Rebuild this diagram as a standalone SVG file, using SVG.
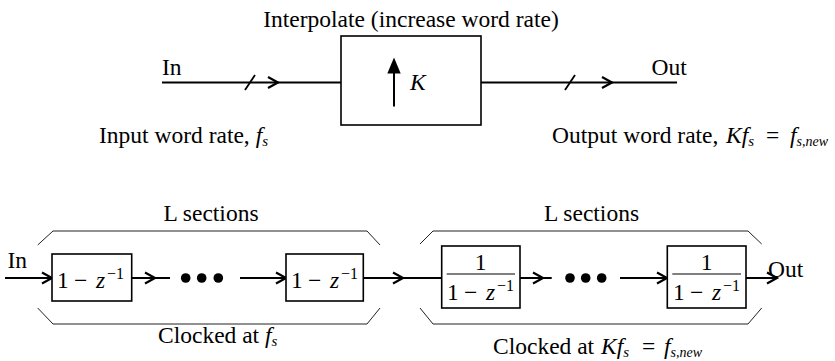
<svg xmlns="http://www.w3.org/2000/svg" xmlns:xlink="http://www.w3.org/1999/xlink" width="835" height="361" viewBox="0 0 835 361">
<style>
text{font-family:"Liberation Serif","Times New Roman",serif;font-size:23.5px;fill:#000}
.i{font-style:italic}
.sub{font-size:15px;font-style:italic}
.sub2{font-size:14px;font-style:italic}
.sup{font-size:16px}
.wire{stroke:#000;stroke-width:2;fill:none}
.box{stroke:#000;stroke-width:1.6;fill:#fff}
.br{stroke:#222;stroke-width:1;fill:none}
</style>
<defs>
<path id="chev" d="M-10,-5.5 L0,0 L-10,5.5" fill="none" stroke="#000" stroke-width="2.2" stroke-linejoin="miter"/>
<path id="slash" d="M-5,7.5 L5,-7.5" fill="none" stroke="#000" stroke-width="1.8"/>
</defs>
<rect width="835" height="361" fill="#fff"/>

<g id="title"><text x="411" y="27" text-anchor="middle">Interpolate (increase word rate)</text></g>

<g id="interp">
<rect class="box" x="341" y="36" width="140" height="89"/>
<path d="M394,106.5 L394,72" stroke="#000" stroke-width="2"/>
<path d="M387.3,73.5 L394,57.5 L400.7,73.5 Z" fill="#000"/>
<text x="410" y="89.5" class="i">K</text>
</g>

<g id="in-top"><text x="162" y="75">In</text></g>
<g id="out-top"><text x="651.5" y="75">Out</text></g>
<g id="inrate"><text x="99" y="143">Input word rate, <tspan class="i">f</tspan><tspan class="sub" dy="3">s</tspan></text></g>
<g id="outrate"><text x="552" y="143">Output word rate,<tspan class="i" x="726">Kf</tspan><tspan class="sub" dy="3">s</tspan><tspan dy="-3" x="766">=</tspan><tspan class="i" x="790">f</tspan><tspan class="sub2" dy="3">s,new</tspan></text></g>

<g id="connectors">
<path class="wire" d="M162,82.5 H341 M481,82.5 H677"/>
<use xlink:href="#slash" x="250" y="82.5"/>
<use xlink:href="#chev" x="278" y="82.5"/>
<use xlink:href="#slash" x="570" y="82.5"/>
<use xlink:href="#chev" x="612" y="82.5"/>
<path class="wire" d="M5,278 H52 M131.7,278 H170 M240,278 H286 M363.3,278 H441.7 M520,278 H551.7 M620,278 H667.3 M746,278 H777"/>
<use xlink:href="#chev" x="52" y="278"/>
<use xlink:href="#chev" x="155" y="278"/>
<use xlink:href="#chev" x="286" y="278"/>
<use xlink:href="#chev" x="403" y="278"/>
<use xlink:href="#chev" x="543" y="278"/>
<use xlink:href="#chev" x="667" y="278"/>
<use xlink:href="#chev" x="777" y="278"/>
</g>

<g id="in-bot"><text x="7.5" y="268">In</text></g>
<g id="out-bot"><text x="768" y="277">Out</text></g>

<g id="bracket1">
<path class="br" d="M37.7,245 L53,231 H367 L380,245"/>
<path class="br" d="M37.7,308 L53,324 H367 L380,308"/>
<text x="211" y="221" text-anchor="middle">L sections</text>
<text x="158" y="343">Clocked at <tspan class="i">f</tspan><tspan class="sub" dy="3">s</tspan></text>
</g>

<g id="bracket2">
<path class="br" d="M420,244 L433,231 H748 L761.7,244"/>
<path class="br" d="M420,308 L433,324 H748 L761.7,308"/>
<text x="591.5" y="221" text-anchor="middle">L sections</text>
<text x="493" y="354">Clocked at <tspan class="i" x="601">Kf</tspan><tspan class="sub" dy="3">s</tspan><tspan dy="-3" x="642">=</tspan><tspan class="i" x="664">f</tspan><tspan class="sub2" dy="3">s,new</tspan></text>
</g>

<g id="diff1">
<rect class="box" x="52" y="254" width="79.7" height="47"/>
<text x="57" y="288">1</text><text x="74" y="288">−</text><text x="96" y="288" class="i">z</text><text x="107" y="279" class="sup">−1</text>
</g>
<g id="diff2">
<rect class="box" x="286" y="254" width="77.3" height="47"/>
<text x="291" y="288">1</text><text x="308" y="288">−</text><text x="330" y="288" class="i">z</text><text x="341" y="279" class="sup">−1</text>
</g>

<g id="dots1"><circle cx="185.7" cy="278" r="4.8"/><circle cx="201.7" cy="278" r="4.8"/><circle cx="218.3" cy="278" r="4.8"/></g>
<g id="dots2"><circle cx="570" cy="278" r="4.8"/><circle cx="585.7" cy="278" r="4.8"/><circle cx="601.7" cy="278" r="4.8"/></g>

<g id="int1">
<rect class="box" x="441.7" y="246" width="78.3" height="62"/>
<text x="480.5" y="270" text-anchor="middle">1</text>
<path d="M446.7,274 H515" stroke="#000" stroke-width="1.2"/>
<text x="447" y="300">1</text><text x="464" y="300">−</text><text x="486" y="300" class="i">z</text><text x="497" y="291" class="sup">−1</text>
</g>
<g id="int2">
<rect class="box" x="667.3" y="246" width="78.7" height="62"/>
<text x="706.5" y="270" text-anchor="middle">1</text>
<path d="M672.3,274 H741" stroke="#000" stroke-width="1.2"/>
<text x="673" y="300">1</text><text x="690" y="300">−</text><text x="712" y="300" class="i">z</text><text x="723" y="291" class="sup">−1</text>
</g>
</svg>
